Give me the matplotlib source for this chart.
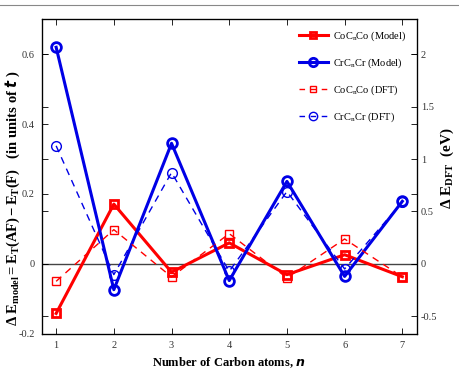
import numpy as np
import matplotlib
matplotlib.use("Agg")
import matplotlib.pyplot as plt
from matplotlib.lines import Line2D

plt.rcParams['font.family'] = ['Liberation Serif', 'DejaVu Serif']
plt.rcParams['mathtext.fontset'] = 'custom'
plt.rcParams['mathtext.rm'] = 'Liberation Serif'
plt.rcParams['mathtext.it'] = 'Liberation Serif:italic'
plt.rcParams['mathtext.bf'] = 'Liberation Serif:bold'

# number of carbon atoms
n_atoms = [1, 2, 3, 4, 5, 6, 7]

# model energies (units of t), left axis
coco_model = [-0.142, 0.171, -0.024, 0.060, -0.031, 0.026, -0.037]
crcr_model = [0.620, -0.074, 0.345, -0.048, 0.236, -0.036, 0.179]

# DFT energies (eV), right axis
coco_dft = [-0.167, 0.326, -0.125, 0.288, -0.134, 0.237, -0.125]
crcr_dft = [1.126, -0.103, 0.871, -0.071, 0.690, -0.049, 0.59]

red = '#ff0000'
blue = '#0000e6'

fig = plt.figure(figsize=(4.6, 3.73), dpi=100)
ax1 = fig.add_axes([0.0907, 0.1054, 0.8153, 0.8428])
ax2 = ax1.twinx()

ax1.axhline(0, color='#444444', lw=1.0, zorder=1)

ax1.plot(n_atoms, coco_model, '-s', color=red, lw=2.2, ms=6, mfc='none', mec=red, mew=2.0, zorder=3)
ax1.plot(n_atoms, crcr_model, '-o', color=blue, lw=2.2, ms=7, mfc='none', mec=blue, mew=2.0, zorder=3)
ax2.plot(n_atoms, coco_dft, '--s', color=red, lw=1.0, ms=6, mfc='none', mec=red, mew=1.0, dashes=(5, 4))
ax2.plot(n_atoms, crcr_dft, '--o', color=blue, lw=1.0, ms=7, mfc='none', mec=blue, mew=1.0, dashes=(5, 4))

ax1.set_xlim(0.75, 7.25)
ax1.set_ylim(-0.2, 0.7)
ax2.set_ylim(-2 / 3, 7 / 3)

ax1.set_xticks(n_atoms)
ax1.set_yticks([-0.2, 0, 0.2, 0.4, 0.6])
ax1.set_yticklabels(['-0.2', '0', '0.2', '0.4', '0.6'])
ax2.set_yticks([-0.5, 0, 0.5, 1, 1.5, 2])
ax2.set_yticklabels(['-0.5', '0', '0.5', '1', '1.5', '2'])

ax1.tick_params(axis='both', direction='in', length=4, width=0.6, labelsize=7.5,
                labelcolor='#333333', top=True, right=True, labelright=False, pad=5)
ax2.tick_params(axis='y', direction='in', length=4, width=0.6, labelsize=7.5,
                labelcolor='#333333', left=True, labelleft=False, pad=3)
for sp in ax1.spines.values():
    sp.set_linewidth(0.9)

ax1.set_xlabel(r'Number of Carbon atoms, $\mathbfit{n}$', fontsize=9, fontweight='bold', labelpad=4)

# axis titles placed by hand so they stay inside the figure
fig.text(0.028, 0.47,
         r'$\mathbf{\Delta\ E_{model} = E_T(AF) - E_T(F)}$   (in units of $\mathbfit{t}$ )',
         fontsize=10.5, fontweight='bold', rotation=90, ha='center', va='center')
fig.text(0.972, 0.55, r'$\mathbf{\Delta\ E_{DFT}}$  (eV)', fontsize=11, fontweight='bold',
         rotation=90, ha='center', va='center')

handles = [
    Line2D([], [], color=red, lw=2.2, marker='s', ms=5, mfc='none', mew=2.0),
    Line2D([], [], color=blue, lw=2.2, marker='o', ms=6, mfc='none', mew=2.0),
    Line2D([], [], color=red, lw=1.0, ls='--', dashes=(4, 4), marker='s', ms=5, mfc='none'),
    Line2D([], [], color=blue, lw=1.0, ls='--', dashes=(4, 4), marker='o', ms=6, mfc='none'),
]
labels = [r'CoC$_\mathrm{n}$Co (Model)', r'CrC$_\mathrm{n}$Cr (Model)',
          r'CoC$_\mathrm{n}$Co (DFT)', r'CrC$_\mathrm{n}$Cr (DFT)']
ax1.legend(handles, labels, loc='upper right', bbox_to_anchor=(1.0, 1.0), frameon=False,
           fontsize=7.5, handlelength=2.8, labelspacing=1.3, handletextpad=0.5,
           borderaxespad=0.6)

# page header rule from the source document
fig.add_artist(Line2D([0, 1], [0.987, 0.987], color='#888888', lw=0.8))

fig.savefig('out.png', dpi=100)
